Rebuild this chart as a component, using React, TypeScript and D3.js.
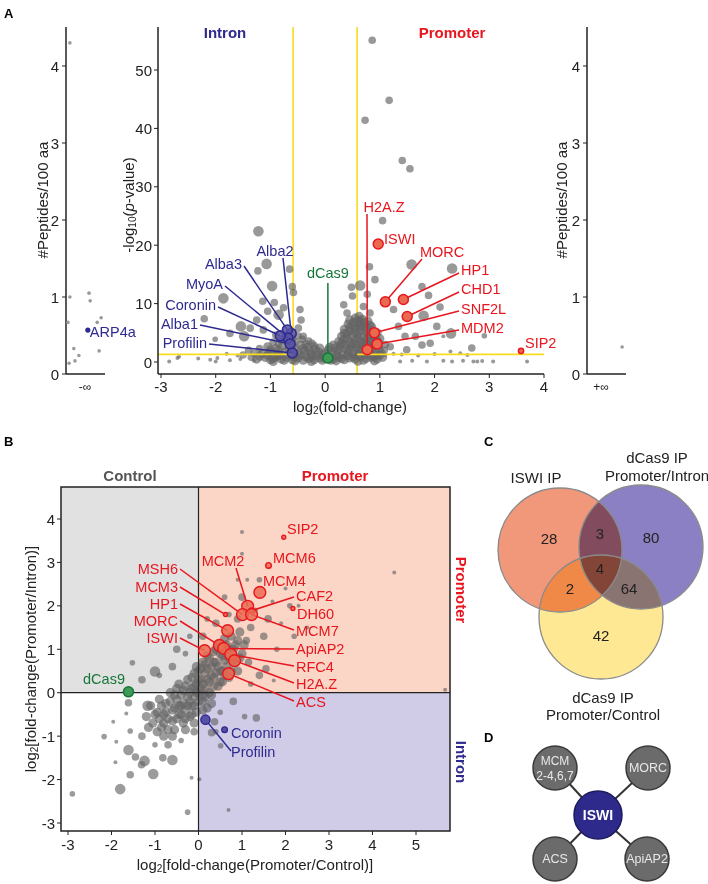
import React from 'react';
import * as d3 from 'd3';

const FONT = "'Liberation Sans', Arial, Helvetica, sans-serif";
const RED = '#e8161e';
const BLUE = '#2e2a8f';
const GREEN = '#17773a';
const YEL = '#f9dc1f';
const GRAYPT = '#646464';

// ---------- Panel A data ----------
const leftPeptides: [number, number][] = [[0.1, 4.3], [0.1, 1.0], [0.59, 1.05], [0.62, 0.95], [0.05, 0.67], [0.8, 0.67], [0.9, 0.73], [0.2, 0.33], [0.85, 0.3], [0.33, 0.24], [0.23, 0.17], [0.08, 0.14]];
const leftHighlight = { name: 'ARP4a', jitter: 0.56, value: 0.57 };
const rightPeptides: [number, number][] = [[0.9, 0.35]];
const peptideTicks = [0, 1, 2, 3, 4];

// volcano: [log2FC, -log10 p, sizeClass]
const volcanoPoints: [number, number, number][] = [
  [0.86, 55.1, 2], [0.73, 41.4, 2], [1.17, 44.8, 2], [1.41, 34.5, 2], [1.55, 33.1, 2], [1.05, 24.2, 2],
  [-1.22, 22.4, 3], [-1.07, 16.8, 3], [-0.65, 15.9, 2], [-1.23, 15.6, 2], [-0.97, 13.0, 3], [-0.6, 12.9, 2], [-0.58, 11.9, 2],
  [-1.86, 10.9, 3], [-1.14, 10.4, 2], [-0.93, 10.2, 2], [-0.76, 9.3, 2], [-2.21, 7.4, 2], [-1.05, 8.7, 2], [-0.85, 8.1, 3],
  [-1.54, 6.1, 3], [-1.25, 7.2, 2], [-1.37, 5.8, 2], [-2.01, 3.9, 1.5], [-1.74, 4.9, 2], [-1.48, 4.4, 3], [-1.13, 5.5, 2],
  [-0.44, 7.2, 2], [-0.49, 5.8, 2], [-0.4, 4.4, 2], [-0.24, 3.2, 2], [-0.46, 9.0, 2],
  [0.48, 12.8, 2], [0.64, 13.1, 3], [0.5, 11.3, 2], [0.77, 11.6, 2], [0.34, 9.8, 2], [0.7, 9.5, 2], [0.4, 8.4, 2], [0.82, 8.4, 2], [0.64, 7.2, 2],
  [0.81, 16.3, 2], [1.58, 16.7, 3], [2.32, 16.0, 3], [0.91, 14.1, 2], [1.77, 12.9, 2], [1.25, 9.0, 2], [1.89, 11.4, 2], [2.1, 9.4, 2],
  [1.8, 7.9, 3], [2.3, 4.9, 3], [2.04, 6.1, 2], [1.34, 6.1, 2], [1.46, 4.4, 2], [1.65, 4.4, 2], [1.92, 3.2, 2], [2.16, 4.4, 1],
  [2.68, 2.4, 2], [2.91, 4.5, 1.5], [1.77, 2.9, 2], [1.19, 2.6, 2], [1.49, 2.1, 2], [2.29, 1.8, 1], [2.47, 1.5, 1],
  [1.37, 0.1, 1], [1.59, 0.2, 1], [1.86, 0.1, 1], [2.16, 0.2, 1], [2.32, 0.1, 1], [2.52, 0.2, 1], [2.71, 0.1, 1], [2.78, 0.1, 1],
  [2.87, 0.15, 1], [3.07, 0.1, 1], [3.69, 0.1, 1], [-2.7, 0.7, 1], [-2.67, 0.9, 1], [-2.32, 0.6, 1], [-2.1, 0.4, 1], [-1.97, 0.7, 1],
  [-1.74, 0.3, 1], [-1.55, 0.5, 1], [-2.85, 0.1, 1], [-2.0, 0.1, 1], [-1.3, 0.2, 1],
  [1.1, 1.2, 1], [1.4, 1.3, 1], [1.7, 1.1, 1], [2.0, 1.35, 1], [2.6, 1.2, 1], [1.25, 1.4, 1], [-1.8, 1.4, 1], [-1.6, 1.1, 1], [-1.1, 1.3, 1],
  // dense cloud
  [-1.25, 0.5, 2.5], [-1.1, 0.8, 2.5], [-1.0, 0.4, 2.5], [-0.9, 0.9, 2.5], [-0.8, 0.5, 2.5], [-0.7, 0.8, 2.5], [-0.6, 0.4, 2.5], [-0.5, 0.7, 2.5], [-0.4, 0.3, 2.5],
  [-0.3, 0.6, 2.5], [-0.2, 0.4, 2.5], [-0.1, 0.7, 2.5], [0.15, 0.5, 2.5], [0.25, 0.8, 2.5], [0.35, 0.4, 2.5], [0.45, 0.7, 2.5], [0.55, 0.5, 2.5], [0.65, 0.9, 2.5],
  [0.75, 0.6, 2.5], [0.85, 0.8, 2.5], [0.95, 0.5, 2.5], [1.05, 0.8, 2.5],
  [-1.15, 1.5, 2.5], [-1.0, 1.7, 2.5], [-0.85, 1.4, 2.5], [-0.72, 1.8, 2.5], [-0.5, 1.5, 2.5], [-0.38, 1.9, 2.5], [-0.25, 1.4, 2.5], [-0.12, 1.7, 2.5], [0.12, 1.5, 2.5],
  [0.22, 1.9, 2.5], [0.32, 1.3, 2.5], [0.42, 1.8, 2.5], [0.52, 1.4, 2.5], [0.62, 1.9, 2.5], [0.72, 1.5, 2.5], [0.82, 1.8, 2.5], [0.92, 1.4, 2.5], [1.02, 1.6, 2.5],
  [-1.05, 2.6, 2.5], [-0.9, 2.3, 2.5], [-0.78, 2.8, 2.5], [-0.55, 2.4, 2.5], [-0.45, 2.9, 2.5], [-0.32, 2.5, 2.5], [-0.18, 2.2, 2.5], [0.18, 2.4, 2.5], [0.28, 2.8, 2.5],
  [0.38, 2.3, 2.5], [0.48, 2.7, 2.5], [0.58, 2.4, 2.5], [0.68, 2.9, 2.5], [0.78, 2.5, 2.5], [0.88, 2.8, 2.5], [0.98, 2.3, 2.5],
  [-0.95, 3.4, 2], [-0.8, 3.8, 2], [-0.55, 3.5, 2], [-0.42, 3.9, 2], [-0.3, 3.6, 2], [0.25, 3.5, 2.5], [0.35, 3.9, 2.5], [0.45, 3.4, 2.5], [0.55, 3.8, 2.5],
  [0.65, 3.5, 2.5], [0.75, 3.9, 2.5], [0.85, 3.4, 2.5], [0.95, 3.7, 2.5],
  [-0.9, 4.6, 2], [-0.5, 4.5, 2], [0.3, 4.4, 2.5], [0.4, 4.8, 2.5], [0.5, 4.5, 2.5], [0.6, 4.9, 2.5], [0.7, 4.4, 2.5], [0.8, 4.7, 2.5], [0.9, 4.3, 2.5],
  [0.35, 5.6, 2.5], [0.45, 5.3, 2.5], [0.55, 5.8, 2.5], [0.65, 5.5, 2.5], [0.75, 5.9, 2.5], [0.85, 5.4, 2.5],
  [0.42, 6.5, 2.5], [0.52, 6.8, 2.5], [0.62, 6.4, 2.5], [0.72, 6.7, 2.5], [0.82, 6.3, 2.5], [0.55, 7.5, 2.5], [0.68, 7.3, 2.5],
  [-0.95, 0.1, 2.5], [-0.55, 0.2, 2.5], [-0.25, 0.1, 2.5], [0.2, 0.2, 2.5], [0.6, 0.15, 2.5], [0.9, 0.2, 2.5],
  [-1.2, 1.0, 2.5], [-1.05, 1.2, 2.5], [-0.95, 0.6, 2.5], [-0.85, 1.1, 2.5], [-0.75, 0.3, 2.5], [-0.65, 1.2, 2.5], [-0.55, 0.9, 2.5], [-0.45, 1.2, 2.5],
  [-0.35, 0.9, 2.5], [-0.25, 1.0, 2.5], [-0.15, 1.1, 2.5], [-0.05, 0.3, 2.5], [0.05, 1.0, 2.5], [0.1, 0.3, 2.5], [0.2, 1.1, 2.5], [0.3, 0.6, 2.5],
  [0.4, 1.1, 2.5], [0.5, 0.9, 2.5], [0.6, 1.2, 2.5], [0.7, 0.3, 2.5], [0.8, 1.2, 2.5], [0.9, 1.0, 2.5], [1.0, 1.2, 2.5],
  [-1.0, 2.1, 2.5], [-0.85, 2.0, 2.5], [-0.65, 2.2, 2.5], [-0.6, 1.5, 2.5], [-0.4, 2.3, 2.5], [-0.28, 1.9, 2.5], [-0.1, 2.4, 2.5], [0.05, 2.0, 2.5],
  [0.15, 2.9, 2.5], [0.25, 2.1, 2.5], [0.35, 3.0, 2.5], [0.45, 2.1, 2.5], [0.55, 3.1, 2.5], [0.65, 2.1, 2.5], [0.75, 3.1, 2.5], [0.85, 2.2, 2.5], [0.95, 3.0, 2.5],
  [-0.85, 3.1, 2], [-0.68, 3.3, 2], [-0.6, 2.7, 2], [-0.35, 3.1, 2], [0.3, 3.2, 2.5], [0.4, 4.1, 2.5], [0.5, 3.1, 2.5], [0.6, 4.2, 2.5],
  [0.7, 3.2, 2.5], [0.8, 4.1, 2.5], [0.9, 3.2, 2.5], [1.0, 4.0, 2.5],
  [-0.75, 4.2, 2], [-0.6, 3.9, 2], [0.35, 4.9, 2.5], [0.45, 5.9, 2.5], [0.55, 5.1, 2.5], [0.65, 6.1, 2.5], [0.75, 5.1, 2.5], [0.85, 6.0, 2.5], [0.95, 5.0, 2.5],
  [0.5, 6.2, 2.5], [0.6, 7.0, 2.5], [0.7, 6.1, 2.5], [0.78, 7.0, 2.5], [0.45, 7.2, 2.5], [0.62, 7.8, 2.5],
  [-1.5, 1.2, 2], [-1.4, 2.0, 2], [-1.3, 1.5, 2], [-1.35, 0.8, 2], [-1.2, 2.3, 2],
  [0.0, 1.5, 2.5], [0.0, 0.6, 2.5], [-0.05, 1.2, 2.5], [0.08, 2.5, 2.5], [-0.2, 2.8, 2], [1.08, 2.0, 2], [1.1, 3.0, 2],
];
const volcanoIntron = [
  { name: 'Alba2', x: -0.62, y: 4.9 },
  { name: 'Alba3', x: -0.69, y: 5.5 },
  { name: 'MyoA', x: -0.68, y: 4.1 },
  { name: 'Coronin', x: -0.82, y: 4.5 },
  { name: 'Alba1', x: -0.64, y: 3.1 },
  { name: 'Profilin', x: -0.6, y: 1.55 },
];
const volcanoPromoter = [
  { name: 'H2A.Z', x: 0.77, y: 2.1, s: 2 },
  { name: 'ISWI', x: 0.97, y: 20.2, s: 2 },
  { name: 'MORC', x: 1.1, y: 10.3, s: 2 },
  { name: 'HP1', x: 1.43, y: 10.7, s: 2 },
  { name: 'CHD1', x: 1.5, y: 7.8, s: 2 },
  { name: 'SNF2L', x: 0.9, y: 5.0, s: 2 },
  { name: 'MDM2', x: 0.95, y: 3.1, s: 2 },
  { name: 'SIP2', x: 3.58, y: 1.9, s: 1 },
];
const volcanoCas9 = { name: 'dCas9', x: 0.05, y: 0.7 };
const volcanoXTicks = [-3, -2, -1, 0, 1, 2, 3, 4];
const volcanoYTicks = [0, 10, 20, 30, 40, 50];
const fcThreshold = 0.585;
const pThreshold = 1.3;

// ---------- Panel B data ----------
const bPoints: [number, number, number][] = [
  [-1.2, -0.55, 2.5], [-1.1, -0.3, 2.5], [-1.05, -0.7, 2.5], [-0.95, -0.45, 2.5], [-0.9, -0.15, 2.5], [-0.85, -0.8, 2.5], [-0.8, -0.5, 2.5],
  [-0.75, -0.25, 2.5], [-0.7, -0.6, 2.5], [-0.65, 0.0, 2.5], [-0.6, -0.4, 2.5], [-0.55, -0.85, 2.5], [-0.5, -0.15, 2.5], [-0.45, -0.5, 2.5],
  [-0.45, 0.2, 2.5], [-0.4, -0.3, 2.5], [-0.35, -0.7, 2.5], [-0.35, 0.05, 2.5], [-0.3, -0.4, 2.5], [-0.25, 0.3, 2.5], [-0.25, -0.1, 2.5],
  [-0.2, -0.55, 2.5], [-0.15, 0.1, 2.5], [-0.15, -0.3, 2.5], [-0.1, 0.45, 2.5], [-0.1, -0.1, 2.5], [-0.05, 0.2, 2.5], [-0.05, -0.45, 2.5],
  [0.0, 0.0, 2.5], [0.0, 0.5, 2.5], [0.05, 0.3, 2.5], [0.1, -0.2, 2.5], [0.1, 0.7, 2.5], [0.15, 0.1, 2.5], [0.15, 0.45, 2.5], [0.2, -0.35, 2.5],
  [0.2, 0.85, 2.5], [0.25, 0.25, 2.5], [0.3, 0.6, 2.5], [0.3, -0.05, 2.5], [0.35, 0.95, 2.5], [0.35, 0.35, 2.5], [0.4, 0.7, 2.5], [0.45, 0.15, 2.5],
  [0.45, 1.1, 2.5], [0.5, 0.5, 2.5], [0.55, 0.85, 2.5], [0.55, 0.25, 2.5], [0.6, 1.25, 2.5], [0.65, 0.6, 2.5], [0.7, 1.0, 2.5], [0.7, 0.35, 2.5],
  [0.75, 1.3, 2.5], [0.8, 0.75, 2.5], [0.85, 1.1, 2.5], [0.9, 0.5, 2.5], [0.95, 1.4, 2.5], [1.0, 0.9, 2.5], [1.1, 1.2, 2], [1.15, 0.7, 2], [1.2, 1.5, 2],
  [-1.15, -0.8, 2.5], [-1.0, -0.5, 2.5], [-0.95, -0.9, 2.5], [-0.9, -0.6, 2.5], [-0.85, -0.3, 2.5], [-0.8, -0.7, 2.5], [-0.75, -0.45, 2.5],
  [-0.7, -0.85, 2.5], [-0.65, -0.2, 2.5], [-0.6, -0.65, 2.5], [-0.55, -0.35, 2.5], [-0.55, -0.05, 2.5], [-0.5, -0.6, 2.5], [-0.5, 0.1, 2.5],
  [-0.45, -0.3, 2.5], [-0.4, -0.05, 2.5], [-0.4, -0.5, 2.5], [-0.35, -0.25, 2.5], [-0.3, 0.15, 2.5], [-0.3, -0.6, 2.5], [-0.25, -0.3, 2.5],
  [-0.2, 0.0, 2.5], [-0.2, -0.2, 2.5], [-0.15, 0.35, 2.5], [-0.15, -0.5, 2.5], [-0.1, 0.15, 2.5], [-0.1, -0.3, 2.5], [-0.05, 0.0, 2.5],
  [-0.05, 0.6, 2.5], [0.0, -0.2, 2.5], [0.0, 0.3, 2.5], [0.05, 0.1, 2.5], [0.05, 0.55, 2.5], [0.1, 0.2, 2.5], [0.1, -0.05, 2.5], [0.15, 0.65, 2.5],
  [0.15, -0.1, 2.5], [0.2, 0.3, 2.5], [0.2, 0.55, 2.5], [0.25, 0.0, 2.5], [0.25, 0.8, 2.5], [0.3, 0.4, 2.5], [0.35, 0.15, 2.5], [0.35, 0.7, 2.5],
  [0.4, 0.45, 2.5], [0.4, 1.0, 2.5], [0.45, 0.6, 2.5], [0.5, 0.25, 2.5], [0.5, 0.9, 2.5], [0.55, 0.5, 2.5], [0.6, 0.75, 2.5], [0.6, 0.4, 2.5],
  [0.65, 1.1, 2.5], [0.7, 0.8, 2.5], [0.75, 0.5, 2.5], [0.8, 1.0, 2.5], [0.85, 0.7, 2.5], [0.9, 1.2, 2.5], [0.95, 0.8, 2.5], [1.05, 1.1, 2.5],
  [0.1, -0.4, 2.5], [0.3, -0.25, 2.5], [-0.1, -0.7, 2.5], [-0.3, -0.85, 2.5], [-0.6, -1.0, 2.5], [-0.8, -1.0, 2.5],
  [-1.3, 0.3, 2], [-0.9, 0.4, 1.5], [-0.6, 0.6, 2], [-0.3, 0.9, 1.5], [0.1, 1.3, 2], [0.4, 1.6, 2], [0.7, 1.8, 1.5], [1.0, 2.2, 2],
  [1.5, 1.3, 2], [1.8, 1.0, 1.5], [1.4, 0.4, 2], [1.2, 0.2, 1.5], [0.8, -0.2, 2], [0.5, -0.45, 1.5], [0.9, 1.7, 2], [1.3, 1.9, 1.5],
  [1.6, 1.7, 2], [1.9, 1.6, 1], [2.2, 1.3, 1.5], [1.7, 2.1, 1], [0.6, 2.2, 1.5], [0.2, 1.7, 1.5], [-0.2, 1.3, 1.5], [-0.5, 1.0, 2],
  [-1.3, -1.0, 2], [-1.0, -1.2, 1.5], [-0.7, -1.2, 2], [-0.4, -1.1, 1.5], [-0.1, -0.9, 2], [0.4, -0.9, 1.5], [2.5, 1.5, 1],
  [2.0, 2.4, 1], [1.4, 2.6, 1.5], [0.9, 2.6, 1], [1.0, 3.2, 1], [2.3, 2.0, 1],
  [-1.52, 0.69, 1.5], [-1.0, 0.49, 3], [-1.17, -0.3, 3], [-1.61, -0.23, 2], [-1.66, -0.48, 1], [-1.96, -0.67, 1], [-2.17, -1.01, 1.5],
  [-1.89, -1.13, 1], [-1.57, -0.88, 1.5], [-1.61, -1.32, 3], [-1.91, -1.6, 1], [-1.24, -1.57, 3], [-1.04, -1.87, 3], [-1.57, -1.89, 2],
  [-1.8, -2.22, 3], [-2.9, -2.33, 1.5], [-1.45, -1.48, 2], [-1.31, -1.66, 2], [-0.6, -1.55, 3], [-0.82, -1.5, 2], [-0.25, -2.75, 1.5],
  [0.69, -2.7, 1], [0.02, -1.99, 1], [-0.16, -1.96, 1], [1.33, -0.58, 2], [1.06, -0.55, 1.5], [0.37, -0.67, 2], [0.3, -0.92, 2],
  [0.51, -1.22, 1.5], [1.73, 0.28, 1], [1.55, 0.55, 2], [1.0, 3.7, 1], [1.12, 2.6, 1], [4.5, 2.77, 1], [5.67, 0.07, 1], [2.1, 2.0, 1.5],
];
const bPromoter = [
  { name: 'SIP2', x: 1.96, y: 3.58, s: 1 },
  { name: 'MCM6', x: 1.61, y: 2.93, s: 1.5 },
  { name: 'MCM4', x: 1.41, y: 2.31, s: 3 },
  { name: 'MCM2', x: 1.13, y: 1.99, s: 3 },
  { name: 'CAF2', x: 1.22, y: 1.89, s: 1.5 },
  { name: 'DH60', x: 2.17, y: 1.94, s: 1 },
  { name: 'MSH6', x: 1.01, y: 1.8, s: 3 },
  { name: 'MCM7', x: 1.22, y: 1.8, s: 3 },
  { name: 'MCM3', x: 0.62, y: 1.8, s: 1 },
  { name: 'HP1', x: 0.67, y: 1.43, s: 3 },
  { name: 'MORC', x: 0.48, y: 1.09, s: 3 },
  { name: 'ISWI', x: 0.14, y: 0.97, s: 3 },
  { name: 'ApiAP2', x: 0.58, y: 1.02, s: 3 },
  { name: 'RFC4', x: 0.74, y: 0.88, s: 3 },
  { name: 'H2A.Z', x: 0.83, y: 0.74, s: 3 },
  { name: 'ACS', x: 0.69, y: 0.44, s: 3 },
];
const bIntron = [
  { name: 'Coronin', x: 0.6, y: -0.85, s: 1.5 },
  { name: 'Profilin', x: 0.16, y: -0.62, s: 2.5 },
];
const bCas9 = { name: 'dCas9', x: -1.61, y: 0.02 };
const bXTicks = [-3, -2, -1, 0, 1, 2, 3, 4, 5];
const bYTicks = [-3, -2, -1, 0, 1, 2, 3, 4];

// ---------- Panel C data ----------
const vennSets = ['ISWI IP', 'dCas9 IP Promoter/Intron', 'dCas9 IP Promoter/Control'];
const vennCounts = { iswiOnly: 28, intronOnly: 80, controlOnly: 42, iswiIntron: 3, iswiControl: 2, intronControl: 64, all: 4 };

// ---------- Panel D data ----------
const networkHub = 'ISWI';
const networkPartners = [['MCM', '2-4,6,7'], ['MORC'], ['ACS'], ['ApiAP2']];

const rad = (s: number) => (s <= 1 ? 2 : s <= 1.5 ? 2.8 : s <= 2 ? 3.8 : s <= 2.5 ? 4.6 : 5.3);

export default function App() {
  const yPep = d3.scaleLinear().domain([0, 4]).range([374, 66]);
  const xLeft = d3.scaleLinear().domain([0, 1]).range([66, 105]);
  const xRight = d3.scaleLinear().domain([0, 1]).range([587, 626]);
  const xV = d3.scaleLinear().domain([-3, 4]).range([161, 544]);
  const yV = d3.scaleLinear().domain([0, 50]).range([362, 70]);
  const vTop = 27, vBottom = 374, vLeft = 158;

  const xB = d3.scaleLinear().domain([-3, 5]).range([68, 416]);
  const yB = d3.scaleLinear().domain([-3, 4]).range([823, 519]);
  const bL = 61, bR = 450, bT = 487, bBt = 831;
  const x0 = xB(0), y0 = yB(0);

  const tickFont = 15;
  const labFont = 14.5;

  const volcanoIntronLayout: Record<string, { tx: number; ty: number; anchor: string; lx: number; ly: number }> = {
    Alba2: { tx: 275, ty: 251, anchor: 'middle', lx: 283, ly: 258 },
    Alba3: { tx: 242, ty: 264, anchor: 'end', lx: 244, ly: 266 },
    MyoA: { tx: 223, ty: 284, anchor: 'end', lx: 225, ly: 286 },
    Coronin: { tx: 216, ty: 305, anchor: 'end', lx: 218, ly: 307 },
    Alba1: { tx: 198, ty: 324, anchor: 'end', lx: 200, ly: 325 },
    Profilin: { tx: 207, ty: 343, anchor: 'end', lx: 209, ly: 344 },
  };
  const volcanoPromLayout: Record<string, { tx: number; ty: number; anchor: string; lx?: number; ly?: number }> = {
    'H2A.Z': { tx: 384, ty: 207, anchor: 'middle', lx: 367, ly: 214 },
    ISWI: { tx: 384, ty: 239, anchor: 'start' },
    MORC: { tx: 420, ty: 252, anchor: 'start', lx: 422, ly: 259 },
    HP1: { tx: 461, ty: 270, anchor: 'start', lx: 459, ly: 273 },
    CHD1: { tx: 461, ty: 289, anchor: 'start', lx: 459, ly: 292 },
    SNF2L: { tx: 461, ty: 309, anchor: 'start', lx: 459, ly: 311 },
    MDM2: { tx: 461, ty: 328, anchor: 'start', lx: 459, ly: 330 },
    SIP2: { tx: 525, ty: 343, anchor: 'start' },
  };
  const bLayout: Record<string, { tx: number; ty: number; anchor: string; lx?: number; ly?: number }> = {
    SIP2: { tx: 287, ty: 529, anchor: 'start' },
    MCM6: { tx: 273, ty: 558, anchor: 'start' },
    MCM4: { tx: 263, ty: 581, anchor: 'start' },
    MCM2: { tx: 223, ty: 561, anchor: 'middle', lx: 236, ly: 568 },
    CAF2: { tx: 296, ty: 596, anchor: 'start', lx: 294, ly: 597 },
    DH60: { tx: 297, ty: 614, anchor: 'start' },
    MSH6: { tx: 178, ty: 569, anchor: 'end', lx: 180, ly: 569 },
    MCM7: { tx: 296, ty: 631, anchor: 'start', lx: 294, ly: 630 },
    MCM3: { tx: 178, ty: 587, anchor: 'end', lx: 180, ly: 587 },
    HP1: { tx: 178, ty: 604, anchor: 'end', lx: 180, ly: 604 },
    MORC: { tx: 178, ty: 621, anchor: 'end', lx: 180, ly: 621 },
    ISWI: { tx: 178, ty: 638, anchor: 'end', lx: 180, ly: 638 },
    ApiAP2: { tx: 296, ty: 649, anchor: 'start', lx: 294, ly: 649 },
    RFC4: { tx: 296, ty: 667, anchor: 'start', lx: 294, ly: 666 },
    'H2A.Z': { tx: 296, ty: 684, anchor: 'start', lx: 294, ly: 683 },
    ACS: { tx: 296, ty: 702, anchor: 'start', lx: 294, ly: 701 },
  };

  const txt = (x: number, y: number, s: string, o: any = {}) => (
    <text x={x} y={y} fontSize={o.size || labFont} fill={o.fill || '#222'} textAnchor={o.anchor || 'start'}
      dominantBaseline="central" fontWeight={o.bold ? 'bold' : 'normal'} transform={o.transform}>{s}</text>
  );

  const vr = 62;
  const cO = { x: 560, y: 550 }, cP = { x: 641, y: 547 }, cY = { x: 601, y: 617 };

  const hub = { x: 598, y: 815, r: 24 };
  const partnerPos = [{ x: 555, y: 768 }, { x: 648, y: 768 }, { x: 555, y: 859 }, { x: 647, y: 859 }];

  return (
    <svg width={708} height={884} style={{ position: 'absolute', left: 0, top: 0, fontFamily: FONT }}>
      <rect x={0} y={0} width={708} height={884} fill="#fff" />
      {txt(4, 13, 'A', { bold: true, size: 13, fill: '#000' })}
      {txt(4, 441, 'B', { bold: true, size: 13, fill: '#000' })}
      {txt(484, 441, 'C', { bold: true, size: 13, fill: '#000' })}
      {txt(484, 737, 'D', { bold: true, size: 13, fill: '#000' })}

      {/* ===== Panel A left ===== */}
      <g>
        <line x1={66} x2={66} y1={27} y2={374} stroke="#222" strokeWidth={1.5} />
        <line x1={66} x2={105} y1={374} y2={374} stroke="#222" strokeWidth={1.5} />
        {peptideTicks.map(t => (
          <g key={t}>
            <line x1={62} x2={66} y1={yPep(t)} y2={yPep(t)} stroke="#222" />
            {txt(59, yPep(t), String(t), { anchor: 'end', size: tickFont })}
          </g>
        ))}
        {txt(85, 387, '-\u221e', { anchor: 'middle', size: 12 })}
        {txt(42, 200, '#Peptides/100 aa', { anchor: 'middle', size: tickFont, transform: 'rotate(-90 42 200)' })}
        {leftPeptides.map((d, i) => <circle key={i} cx={xLeft(d[0])} cy={yPep(d[1])} r={1.8} fill="#9a9a9a" />)}
        <circle cx={xLeft(leftHighlight.jitter)} cy={yPep(leftHighlight.value)} r={2.6} fill={BLUE} />
        {txt(xLeft(leftHighlight.jitter) + 2, yPep(leftHighlight.value) + 2, leftHighlight.name, { fill: BLUE })}
      </g>

      {/* ===== Panel A right ===== */}
      <g>
        <line x1={587} x2={587} y1={27} y2={374} stroke="#222" strokeWidth={1.5} />
        <line x1={587} x2={626} y1={374} y2={374} stroke="#222" strokeWidth={1.5} />
        {peptideTicks.map(t => (
          <g key={t}>
            <line x1={583} x2={587} y1={yPep(t)} y2={yPep(t)} stroke="#222" />
            {txt(580, yPep(t), String(t), { anchor: 'end', size: tickFont })}
          </g>
        ))}
        {txt(601, 387, '+\u221e', { anchor: 'middle', size: 12 })}
        {txt(561, 200, '#Peptides/100 aa', { anchor: 'middle', size: tickFont, transform: 'rotate(-90 561 200)' })}
        {rightPeptides.map((d, i) => <circle key={i} cx={xRight(d[0])} cy={yPep(d[1])} r={1.8} fill="#9a9a9a" />)}
      </g>

      {/* ===== Volcano ===== */}
      <g>
        <line x1={xV(-fcThreshold)} x2={xV(-fcThreshold)} y1={vTop} y2={vBottom} stroke={YEL} strokeWidth={1.6} />
        <line x1={xV(fcThreshold)} x2={xV(fcThreshold)} y1={vTop} y2={vBottom} stroke={YEL} strokeWidth={1.6} />
        {volcanoPoints.map((d, i) => (
          <circle key={i} cx={xV(d[0])} cy={yV(d[1])} r={rad(d[2])} fill={GRAYPT} fillOpacity={0.66} />
        ))}
        <line x1={vLeft} x2={xV(-fcThreshold)} y1={yV(pThreshold)} y2={yV(pThreshold)} stroke={YEL} strokeWidth={1.6} />
        <line x1={xV(fcThreshold)} x2={xV(4)} y1={yV(pThreshold)} y2={yV(pThreshold)} stroke={YEL} strokeWidth={1.6} />
        <line x1={vLeft} x2={vLeft} y1={vTop} y2={vBottom} stroke="#222" strokeWidth={1.5} />
        <line x1={vLeft} x2={xV(4)} y1={vBottom} y2={vBottom} stroke="#222" strokeWidth={1.5} />
        {volcanoYTicks.map(t => (
          <g key={t}>
            <line x1={vLeft - 4} x2={vLeft} y1={yV(t)} y2={yV(t)} stroke="#222" />
            {txt(vLeft - 6, yV(t), String(t), { anchor: 'end', size: tickFont })}
          </g>
        ))}
        {volcanoXTicks.map(t => (
          <g key={t}>
            <line x1={xV(t)} x2={xV(t)} y1={vBottom} y2={vBottom + 4} stroke="#222" />
            {txt(xV(t), 386, String(t), { anchor: 'middle', size: tickFont })}
          </g>
        ))}
        <text x={350} y={406} fontSize={15} textAnchor="middle" dominantBaseline="central" fill="#222">
          log<tspan fontSize={10} dy={4}>2</tspan><tspan dy={-4}>(fold-change)</tspan>
        </text>
        <text transform="rotate(-90 128 205)" x={128} y={205} fontSize={15} textAnchor="middle" dominantBaseline="central" fill="#222">
          -log<tspan fontSize={10} dy={4}>10</tspan><tspan dy={-4}>(</tspan><tspan fontStyle="italic">p</tspan>-value)
        </text>
        {txt(225, 32, 'Intron', { anchor: 'middle', bold: true, size: 15, fill: BLUE })}
        {txt(452, 32, 'Promoter', { anchor: 'middle', bold: true, size: 15, fill: RED })}

        {volcanoIntron.map(d => {
          const L = volcanoIntronLayout[d.name];
          return <line key={'l' + d.name} x1={L.lx} y1={L.ly} x2={xV(d.x)} y2={yV(d.y)} stroke={BLUE} strokeWidth={1.5} />;
        })}
        {volcanoIntron.map(d => (
          <circle key={'c' + d.name} cx={xV(d.x)} cy={yV(d.y)} r={5} fill="#5651a6" fillOpacity={0.85} stroke={BLUE} strokeWidth={1.5} />
        ))}
        {volcanoIntron.map(d => {
          const L = volcanoIntronLayout[d.name];
          return <g key={'t' + d.name}>{txt(L.tx, L.ty, d.name, { anchor: L.anchor, fill: BLUE })}</g>;
        })}
        <line x1={xV(volcanoCas9.x)} x2={xV(volcanoCas9.x)} y1={283} y2={yV(volcanoCas9.y)} stroke={GREEN} strokeWidth={1.5} />
        <circle cx={xV(volcanoCas9.x)} cy={yV(volcanoCas9.y)} r={5} fill="#3f9a55" stroke={GREEN} strokeWidth={1.5} />
        {txt(xV(volcanoCas9.x), 273, volcanoCas9.name, { anchor: 'middle', fill: GREEN })}
        {volcanoPromoter.map(d => {
          const L = volcanoPromLayout[d.name];
          return L.lx !== undefined ? <line key={'l' + d.name} x1={L.lx} y1={L.ly} x2={xV(d.x)} y2={yV(d.y)} stroke={RED} strokeWidth={1.5} /> : null;
        })}
        {volcanoPromoter.map(d => (
          <circle key={'c' + d.name} cx={xV(d.x)} cy={yV(d.y)} r={d.s === 1 ? 2.6 : 5} fill="#ea6a50" stroke={RED} strokeWidth={1.5} />
        ))}
        {volcanoPromoter.map(d => {
          const L = volcanoPromLayout[d.name];
          return <g key={'t' + d.name}>{txt(L.tx, L.ty, d.name, { anchor: L.anchor, fill: RED })}</g>;
        })}
      </g>

      {/* ===== Panel B ===== */}
      <g>
        <rect x={bL} y={bT} width={x0 - bL} height={y0 - bT} fill="#e1e1e1" />
        <rect x={x0} y={bT} width={bR - x0} height={y0 - bT} fill="#fbd6c6" />
        <rect x={x0} y={y0} width={bR - x0} height={bBt - y0} fill="#d0cce8" />
        {bPoints.map((d, i) => (
          <circle key={i} cx={xB(d[0])} cy={yB(d[1])} r={rad(d[2])} fill={GRAYPT} fillOpacity={0.64} />
        ))}
        <line x1={x0} x2={x0} y1={bT} y2={bBt} stroke="#222" strokeWidth={1.2} />
        <line x1={bL} x2={bR} y1={y0} y2={y0} stroke="#222" strokeWidth={1.2} />
        <rect x={bL} y={bT} width={bR - bL} height={bBt - bT} fill="none" stroke="#222" strokeWidth={1.5} />
        {bYTicks.map(t => (
          <g key={t}>
            <line x1={bL - 4} x2={bL} y1={yB(t)} y2={yB(t)} stroke="#222" />
            {txt(bL - 6, yB(t), String(t), { anchor: 'end', size: tickFont })}
          </g>
        ))}
        {bXTicks.map(t => (
          <g key={t}>
            <line x1={xB(t)} x2={xB(t)} y1={bBt} y2={bBt + 4} stroke="#222" />
            {txt(xB(t), 844, String(t), { anchor: 'middle', size: tickFont })}
          </g>
        ))}
        <text x={255} y={864} fontSize={15} textAnchor="middle" dominantBaseline="central" fill="#222">
          log<tspan fontSize={10} dy={4}>2</tspan><tspan dy={-4}>[fold-change(Promoter/Control)]</tspan>
        </text>
        <text transform="rotate(-90 30 659)" x={30} y={659} fontSize={15} textAnchor="middle" dominantBaseline="central" fill="#222">
          log<tspan fontSize={10} dy={4}>2</tspan><tspan dy={-4}>[fold-change(Promoter/Intron)]</tspan>
        </text>
        {txt(130, 475, 'Control', { anchor: 'middle', bold: true, size: 15, fill: '#555' })}
        {txt(335, 475, 'Promoter', { anchor: 'middle', bold: true, size: 15, fill: RED })}
        {txt(461, 590, 'Promoter', { anchor: 'middle', bold: true, size: 15, fill: RED, transform: 'rotate(90 461 590)' })}
        {txt(461, 762, 'Intron', { anchor: 'middle', bold: true, size: 15, fill: BLUE, transform: 'rotate(90 461 762)' })}

        {bPromoter.map(d => {
          const L = bLayout[d.name];
          return L.lx !== undefined ? <line key={'l' + d.name} x1={L.lx} y1={L.ly} x2={xB(d.x)} y2={yB(d.y)} stroke={RED} strokeWidth={1.5} /> : null;
        })}
        {bPromoter.map(d => (
          <circle key={'c' + d.name} cx={xB(d.x)} cy={yB(d.y)} r={rad(d.s) + (d.s >= 3 ? 0.6 : 0)} fill="#ea6a50" fillOpacity={0.85} stroke={RED} strokeWidth={1.4} />
        ))}
        {bPromoter.map(d => {
          const L = bLayout[d.name];
          return <g key={'t' + d.name}>{txt(L.tx, L.ty, d.name, { anchor: L.anchor, fill: RED })}</g>;
        })}
        <line x1={xB(bIntron[1].x)} y1={yB(bIntron[1].y)} x2={231} y2={751} stroke={BLUE} strokeWidth={1.5} />
        {bIntron.map(d => (
          <circle key={d.name} cx={xB(d.x)} cy={yB(d.y)} r={rad(d.s)} fill="#5651a6" stroke={BLUE} strokeWidth={1.4} />
        ))}
        {txt(231, 733, bIntron[0].name, { fill: BLUE })}
        {txt(231, 752, bIntron[1].name, { fill: BLUE })}
        <circle cx={xB(bCas9.x)} cy={yB(bCas9.y)} r={5} fill="#3f9a55" stroke={GREEN} strokeWidth={1.5} />
        {txt(104, 679, bCas9.name, { anchor: 'middle', fill: GREEN })}
      </g>

      {/* ===== Panel C Venn ===== */}
      <g>
        <g style={{ isolation: 'isolate' } as any}>
          <circle cx={cY.x} cy={cY.y} r={vr} fill="#fee894" style={{ mixBlendMode: 'multiply' } as any} />
          <circle cx={cO.x} cy={cO.y} r={vr} fill="#f1977a" style={{ mixBlendMode: 'multiply' } as any} />
          <circle cx={cP.x} cy={cP.y} r={vr} fill="#8b80c4" style={{ mixBlendMode: 'multiply' } as any} />
        </g>
        {[cO, cP, cY].map((c, i) => <circle key={i} cx={c.x} cy={c.y} r={vr} fill="none" stroke="#8a8a8a" strokeWidth={1.3} />)}
        {txt(536, 477, vennSets[0], { anchor: 'middle', size: 15 })}
        {txt(657, 457, 'dCas9 IP', { anchor: 'middle', size: 15 })}
        {txt(657, 475, 'Promoter/Intron', { anchor: 'middle', size: 15 })}
        {txt(603, 697, 'dCas9 IP', { anchor: 'middle', size: 15 })}
        {txt(603, 714, 'Promoter/Control', { anchor: 'middle', size: 15 })}
        {txt(549, 538, String(vennCounts.iswiOnly), { anchor: 'middle', size: 15 })}
        {txt(600, 533, String(vennCounts.iswiIntron), { anchor: 'middle', size: 15 })}
        {txt(651, 537, String(vennCounts.intronOnly), { anchor: 'middle', size: 15 })}
        {txt(600, 568, String(vennCounts.all), { anchor: 'middle', size: 15 })}
        {txt(570, 588, String(vennCounts.iswiControl), { anchor: 'middle', size: 15 })}
        {txt(629, 588, String(vennCounts.intronControl), { anchor: 'middle', size: 15 })}
        {txt(601, 635, String(vennCounts.controlOnly), { anchor: 'middle', size: 15 })}
      </g>

      {/* ===== Panel D network ===== */}
      <g>
        {partnerPos.map((p, i) => <line key={i} x1={hub.x} y1={hub.y} x2={p.x} y2={p.y} stroke="#333" strokeWidth={2} />)}
        {partnerPos.map((p, i) => <circle key={i} cx={p.x} cy={p.y} r={22} fill="#6b6b6b" stroke="#3a3a3a" strokeWidth={1.5} />)}
        <circle cx={hub.x} cy={hub.y} r={hub.r} fill="#2d2a8c" stroke="#1d1b5e" strokeWidth={1.5} />
        {txt(hub.x, hub.y, networkHub, { anchor: 'middle', bold: true, size: 14, fill: '#fff' })}
        {networkPartners.map((lines, i) => (
          <g key={i}>
            {lines.map((s, j) => txt(partnerPos[i].x, partnerPos[i].y + (j - (lines.length - 1) / 2) * 15, s, { anchor: 'middle', size: lines.length > 1 ? 12 : 12.5, fill: '#e8e8e8' }))}
          </g>
        ))}
      </g>
    </svg>
  );
}
